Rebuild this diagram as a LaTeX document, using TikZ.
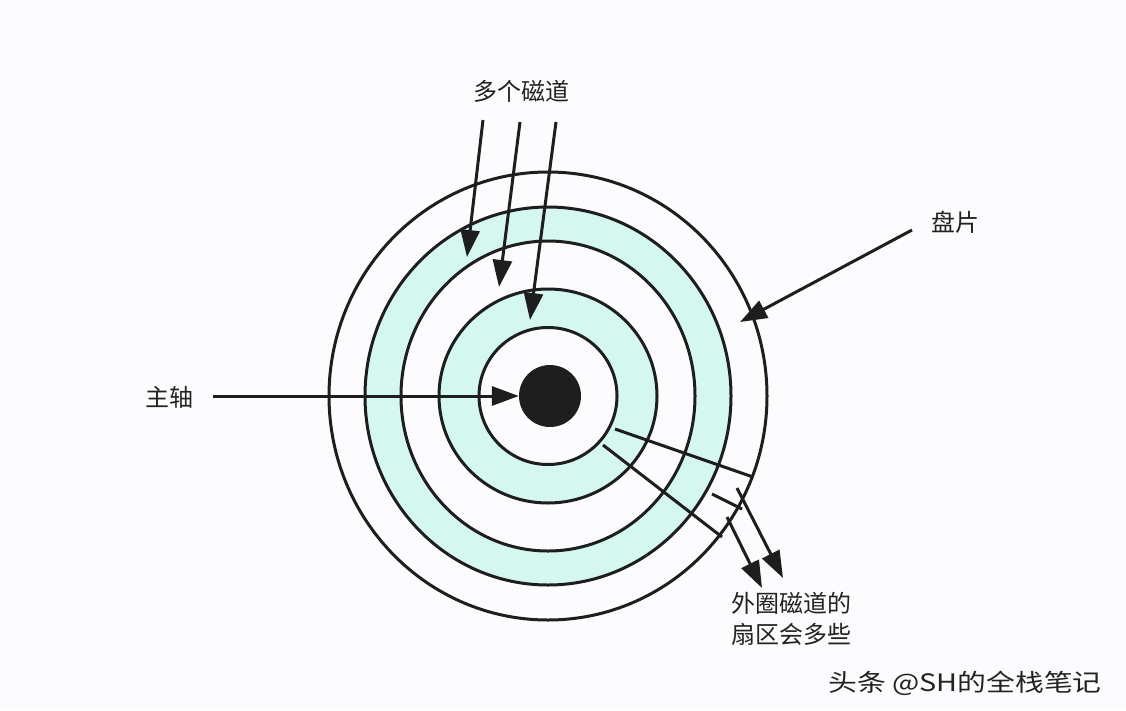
\documentclass[tikz,border=0pt]{standalone}
\usepackage{fontspec}
\setmainfont{Noto Sans CJK SC}
\usetikzlibrary{arrows.meta}
\definecolor{bandc}{HTML}{D4F7EF}
\definecolor{bgc}{HTML}{FCFCFE}
\definecolor{ink}{HTML}{1E1E1E}
\definecolor{txt}{HTML}{222222}
\tikzset{
  ring/.style={draw=ink, line width=3pt},
  band/.style={fill=bandc},
  ptr/.style={draw=ink, line width=3pt, -{Triangle[length=27pt,width=19pt]}},
  seg/.style={draw=ink, line width=3pt},
  lbl/.style={font=\fontsize{24}{31}\selectfont, text=txt, inner sep=0pt, align=left},
}
\begin{document}
\begin{tikzpicture}[x=1pt,y=-1pt]
\useasboundingbox (0,0) rectangle (1126,710);
\fill[bgc] (0,0) rectangle (1126,710);
\coordinate (c) at (548,396);
% bands
\fill[band, even odd rule] (c) ellipse [x radius=183pt, y radius=189pt] (c) ellipse [x radius=147pt, y radius=155pt];
\fill[band, even odd rule] (c) ellipse [x radius=109pt, y radius=107pt] (c) ellipse [x radius=69pt, y radius=68.5pt];
% rings
\draw[ring] (c) ellipse [x radius=219pt, y radius=224pt];
\draw[ring] (c) ellipse [x radius=183pt, y radius=189pt];
\draw[ring] (c) ellipse [x radius=147pt, y radius=155pt];
\draw[ring] (c) ellipse [x radius=109pt, y radius=107pt];
\draw[ring] (c) ellipse [x radius=69pt, y radius=68.5pt];
% spindle
\node[circle, fill=ink, minimum size=62pt, inner sep=0pt] (spindle) at (550,396) {};
% sector lines
\coordinate (a1) at (615,429); \coordinate (a2) at (753,477);
\coordinate (b1) at (603,445); \coordinate (b2) at (722,537);
\coordinate (e1) at (712,494); \coordinate (e2) at (742,509);
\draw[seg] (a1) -- (a2);
\draw[seg] (b1) -- (b2);
\draw[seg] (e1) -- (e2);
% labels
\node[lbl] (tracks) at (521,91) {多个磁道};
\node[lbl] (platter) at (955,222) {盘片};
\node[lbl] (axis) at (169,397) {主轴};
\node[lbl, anchor=north west] (outer) at (731,592) {外圈磁道的\\扇区会多些};
\node[font=\fontsize{24}{28}\selectfont, text=txt, inner sep=0pt, xscale=1.2] (wm) at (965,683) {头条 @SH的全栈笔记};
% arrow coordinates
\coordinate (t1s) at (483,120); \coordinate (t1e) at (467,257);
\coordinate (t2s) at (520,122); \coordinate (t2e) at (499,287);
\coordinate (t3s) at (556,122); \coordinate (t3e) at (530,320);
\coordinate (ps) at (912,230); \coordinate (pe) at (740,322);
\coordinate (as) at (213,396);
\coordinate (cs) at (737,488); \coordinate (ce) at (783,578);
\coordinate (ds) at (727,517); \coordinate (de) at (762,588);
\draw[ptr] (t1s) -- (t1e);
\draw[ptr] (t2s) -- (t2e);
\draw[ptr] (t3s) -- (t3e);
\draw[ptr] (ps) -- (pe);
\draw[ptr] (as) -- (spindle.west);
\draw[ptr] (cs) -- (ce);
\draw[ptr] (ds) -- (de);
\end{tikzpicture}
\end{document}
